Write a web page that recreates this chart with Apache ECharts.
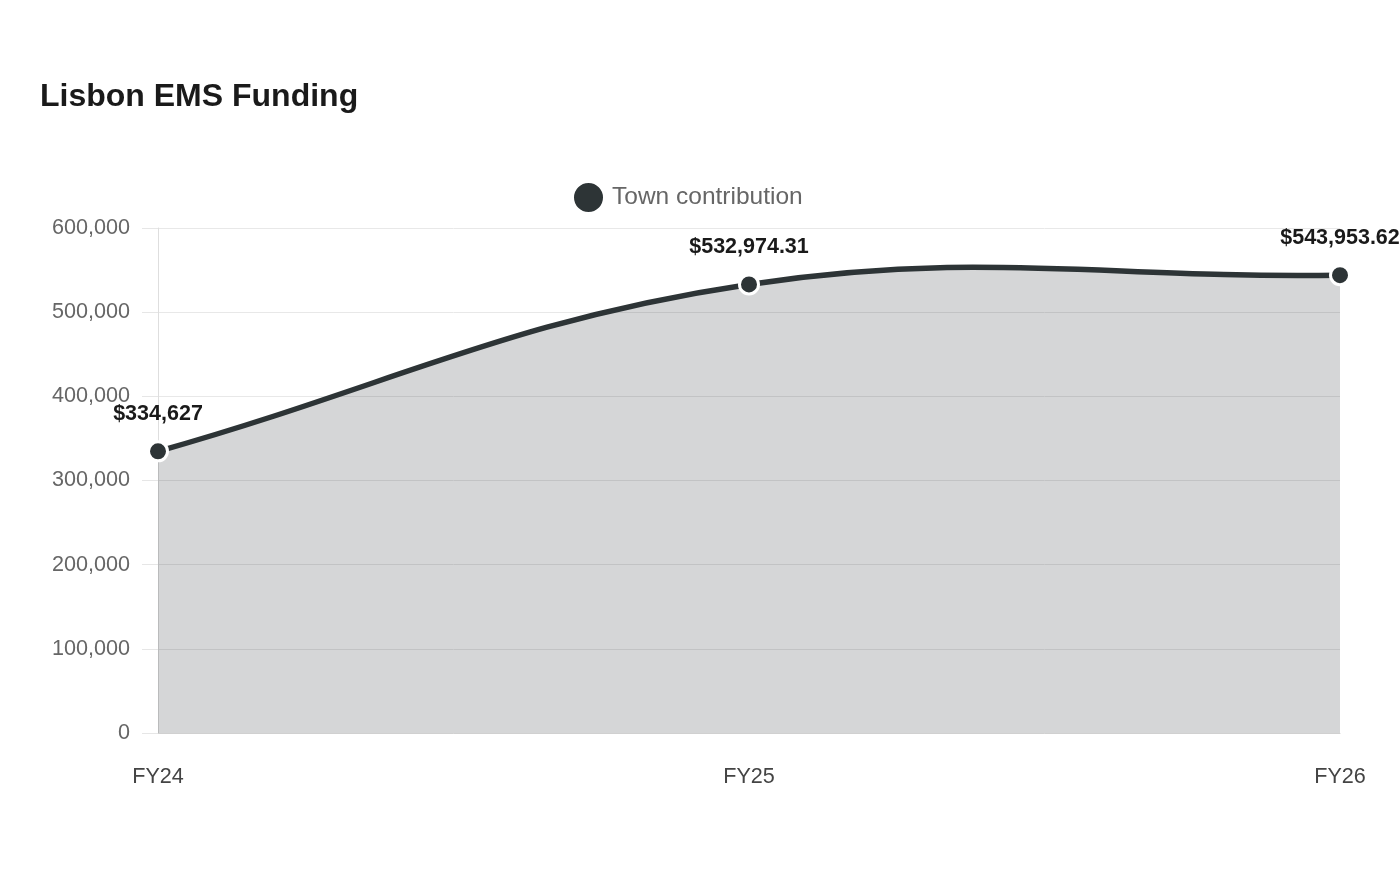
<!DOCTYPE html>
<html><head><meta charset="utf-8">
<script src="https://cdn.jsdelivr.net/npm/echarts@6/dist/echarts.min.js"></script>
<style>html,body{margin:0;padding:0;background:#fff}#c{width:1400px;height:880px}</style>
</head><body><div id="c"></div>
<script>
const categories = ['FY24', 'FY25', 'FY26'];
const townContribution = [334627, 532974.31, 543953.62];
const yTicks = [0, 100000, 200000, 300000, 400000, 500000, 600000];

const LINE_COLOR = '#2d3436';
const TENSION = 0.4;

function fmtLabel(v) {
  const s = Number.isInteger(v) ? v.toLocaleString('en-US') : v.toLocaleString('en-US', {minimumFractionDigits: 2, maximumFractionDigits: 2});
  return '$' + s;
}

// Distance-weighted spline control points through the pixel points given by the axes
function buildPath(pts) {
  const cps = pts.map((cur, i) => {
    const prev = pts[i - 1] || cur;
    const next = pts[i + 1] || cur;
    const d01 = Math.hypot(cur[0] - prev[0], cur[1] - prev[1]);
    const d12 = Math.hypot(next[0] - cur[0], next[1] - cur[1]);
    let s01 = d01 / (d01 + d12), s12 = d12 / (d01 + d12);
    if (isNaN(s01)) s01 = 0;
    if (isNaN(s12)) s12 = 0;
    const fa = TENSION * s01, fb = TENSION * s12;
    return {
      prev: [cur[0] - fa * (next[0] - prev[0]), cur[1] - fa * (next[1] - prev[1])],
      next: [cur[0] + fb * (next[0] - prev[0]), cur[1] + fb * (next[1] - prev[1])]
    };
  });
  let d = 'M' + pts[0][0] + ' ' + pts[0][1];
  for (let i = 1; i < pts.length; i++) {
    const a = cps[i - 1].next, b = cps[i].prev, p = pts[i];
    d += ' C' + a[0] + ' ' + a[1] + ' ' + b[0] + ' ' + b[1] + ' ' + p[0] + ' ' + p[1];
  }
  return d;
}

const chart = echarts.init(document.getElementById('c'));
chart.setOption({
  animation: false,
  textStyle: {fontFamily: 'Liberation Sans, Arial, sans-serif'},
  title: {
    text: 'Lisbon EMS Funding', left: 35, top: 76,
    textStyle: {fontSize: 32, fontWeight: 'bold', color: '#1a1a1a', fontFamily: 'Liberation Sans, Arial, sans-serif'}
  },
  legend: {
    top: 176, left: 567,
    icon: 'circle', itemWidth: 31, itemHeight: 31, itemGap: 10,
    textStyle: {fontSize: 24.5, color: '#666', padding: [0, 0, 0, 3]},
    data: ['Town contribution']
  },
  grid: {left: 158, right: 60, top: 228, bottom: 147},
  xAxis: {
    type: 'category', data: categories, boundaryGap: false,
    axisLine: {lineStyle: {color: '#d0d0d0'}},
    axisTick: {show: false},
    axisLabel: {fontSize: 21.6, color: '#444', margin: 31, padding: [2, 0, 0, 0]}
  },
  yAxis: {
    type: 'value', min: yTicks[0], max: yTicks[yTicks.length - 1], interval: 100000,
    axisLine: {show: true, lineStyle: {color: '#dedede'}},
    axisTick: {show: true, inside: false, length: 16, lineStyle: {color: '#e6e6e6'}},
    splitLine: {lineStyle: {color: '#e8e8e8'}},
    axisLabel: {fontSize: 21.6, color: '#666', margin: 28, padding: [4, 0, 0, 0], formatter: v => v.toLocaleString('en-US')}
  },
  series: [{
    name: '_curve', type: 'custom', coordinateSystem: 'cartesian2d',
    data: townContribution.map((v, i) => [i, v]),
    z: 1, silent: true,
    renderItem: function (params, api) {
      if (params.dataIndex !== 0) return null;
      const pts = townContribution.map((v, i) => api.coord([i, v]));
      const base = api.coord([0, yTicks[0]])[1];
      const line = buildPath(pts);
      const area = line + ' L' + pts[pts.length - 1][0] + ' ' + base + ' L' + pts[0][0] + ' ' + base + ' Z';
      return {
        type: 'group',
        children: [
          {type: 'path', shape: {pathData: area}, style: {fill: LINE_COLOR, opacity: 0.2, stroke: null}},
          {type: 'path', shape: {pathData: line}, style: {fill: null, stroke: LINE_COLOR, lineWidth: 5.5, lineCap: 'round', lineJoin: 'round'}}
        ]
      };
    }
  }, {
    name: 'Town contribution', type: 'line',
    data: townContribution,
    color: LINE_COLOR, z: 3,
    symbol: 'circle', symbolSize: 19,
    itemStyle: {color: LINE_COLOR, borderColor: '#fff', borderWidth: 3},
    lineStyle: {width: 0, opacity: 0},
    label: {
      show: true, position: 'top', distance: 15,
      fontSize: 21.5, fontWeight: 'bold', color: '#1a1a1a',
      formatter: p => fmtLabel(p.value)
    }
  }]
});
</script></body></html>
